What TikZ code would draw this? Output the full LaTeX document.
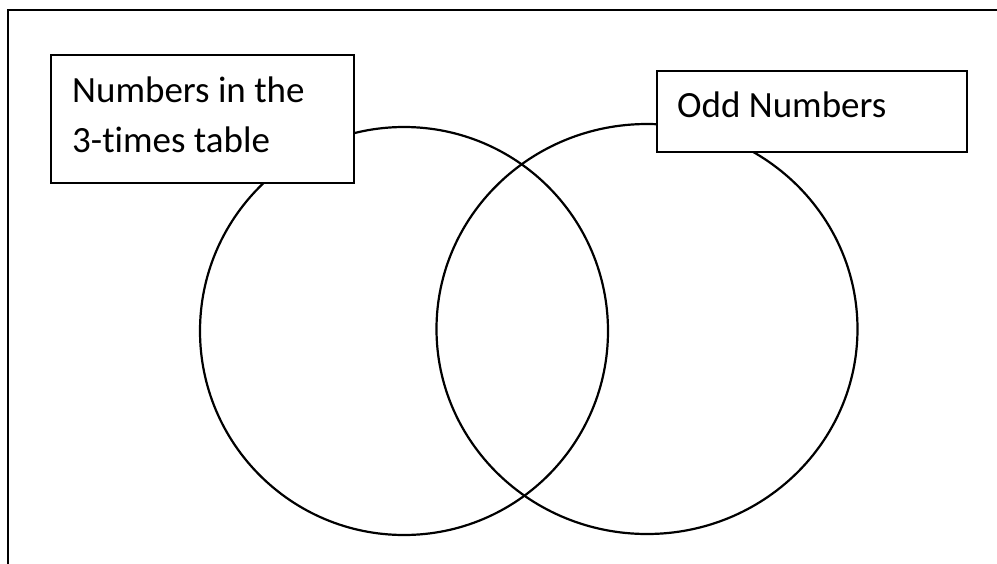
\documentclass[tikz,border=0pt]{standalone}
\usepackage{fontspec}
\setmainfont{Carlito}[Ligatures=NoCommon]
\begin{document}
\begin{tikzpicture}[x=1pt,y=-1pt,
  lbl/.style={anchor=base west,inner sep=0pt,font=\fontsize{37}{50}\selectfont},
  boxshape/.style={draw=black,line width=2.2pt,fill=white,rectangle,inner sep=0pt,anchor=north west},
  ring/.style={draw=black,line width=2.2pt}]
\useasboundingbox (0,0) rectangle (997,563);
\clip (0,0) rectangle (997,563);
\draw[line width=2.2pt] (8,10) rectangle (1020,600);
\draw[ring] (404,331) circle [radius=204];
\draw[ring] (647,329) ellipse [x radius=210.5, y radius=205];
\node[boxshape,minimum width=303pt,minimum height=128pt] (lbox) at (50,54) {};
\node[boxshape,minimum width=310pt,minimum height=81pt] (rbox) at (656,70) {};
\node[lbl] (l1) at (72,102) {Numbers in the};
\node[lbl] (l2) at (72,152) {3-times table};
\node[lbl] (r1) at (677,117) {Odd Numbers};
\end{tikzpicture}
\end{document}
